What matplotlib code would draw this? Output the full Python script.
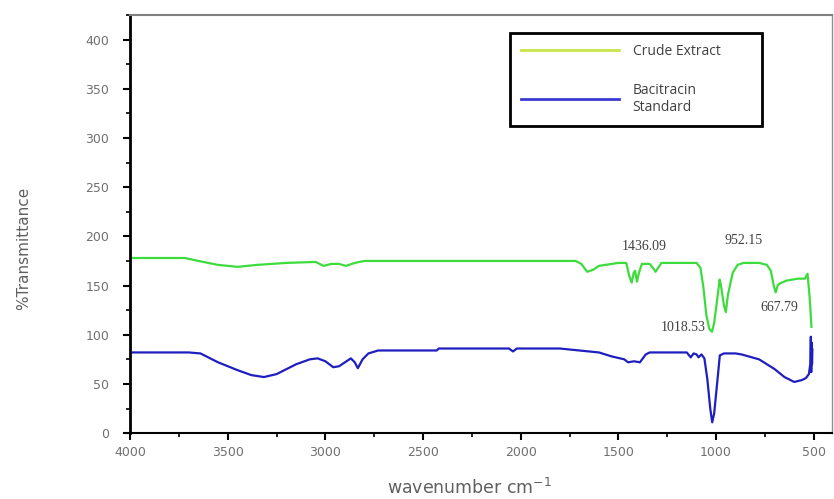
import matplotlib
matplotlib.use("Agg")
import matplotlib.pyplot as plt
from matplotlib.lines import Line2D
from matplotlib.ticker import MultipleLocator

# ---- data ----
crude_wn = [4000, 3720, 3650, 3550, 3450, 3350, 3200, 3050, 3010, 2970, 2930, 2895,
            2850, 2800, 2500, 2000, 1720, 1690, 1660, 1630, 1600, 1500, 1460, 1445,
            1432, 1422, 1415, 1405, 1395, 1380, 1340, 1320, 1310, 1300, 1280, 1100,
            1080, 1065, 1050, 1035, 1021, 1010, 995, 982, 975, 960, 950, 940, 915,
            890, 860, 780, 740, 720, 705, 695, 685, 675, 640, 580, 545, 532, 522,
            517, 512]
crude_t = [178, 178, 175, 171, 169, 171, 173, 174, 170, 172, 172, 170,
           173, 175, 175, 175, 175, 172, 164, 166, 170, 173, 173, 160,
           153, 163, 165, 154, 163, 172, 172, 167, 164, 167, 173, 173,
           168, 148, 120, 106, 103, 112, 135, 156, 150, 130, 123, 140, 163,
           171, 173, 173, 171, 165, 150, 143, 150, 152, 155, 157, 157, 162, 140,
           125, 108]

std_wn = [4000, 3700, 3640, 3550, 3450, 3380, 3315, 3250, 3150, 3080, 3040, 3000,
          2960, 2930, 2900, 2870, 2850, 2834, 2810, 2780, 2730, 2430, 2420, 2060,
          2040, 2020, 1800, 1650, 1600, 1535, 1470, 1451, 1420, 1390, 1360, 1340,
          1150, 1130, 1115, 1100, 1090, 1075, 1060, 1045, 1030, 1020, 1010, 995,
          981, 960, 900, 870, 780, 700, 650, 600, 560, 540, 525, 518, 515, 513,
          511, 509, 507]
std_t = [82, 82, 81, 72, 64, 59, 57, 60, 70, 75, 76, 73,
         67, 68, 72, 76, 72, 66, 75, 81, 84, 84, 86, 86,
         83, 86, 86, 83, 82, 78, 75, 72, 73, 72, 80, 82,
         82, 77, 81, 80, 77, 80, 76, 55, 25, 11, 20, 50,
         79, 81, 81, 80, 75, 65, 57, 52, 54, 56, 60, 70, 98, 62,
         92, 70, 85]

xticks = [4000, 3500, 3000, 2500, 2000, 1500, 1000, 500]
yticks = [0, 50, 100, 150, 200, 250, 300, 350, 400]

annotations = [("1436.09", 1370, 190), ("952.15", 858, 196),
               ("1018.53", 1170, 107), ("667.79", 674, 128)]

# ---- figure ----
fig = plt.figure(figsize=(8.34, 4.99), dpi=100)
ax = fig.add_axes([0.156, 0.132, 0.842, 0.838])

ax.plot(crude_wn, crude_t, color="#3ddc3d", lw=1.6)
ax.plot(std_wn, std_t, color="#1f1fc0", lw=1.6)

ax.set_xlim(4000, 405)
ax.set_ylim(0, 425)
ax.set_xticks(xticks)
ax.set_yticks(yticks)
ax.xaxis.set_minor_locator(MultipleLocator(250))
ax.yaxis.set_minor_locator(MultipleLocator(25))

ax.tick_params(axis="both", which="major", direction="out", length=5, width=1.5,
               labelsize=9, labelcolor="#707070", color="black")
ax.tick_params(axis="both", which="minor", direction="out", length=3, width=1.2,
               color="black")
ax.tick_params(axis="x", pad=4)
ax.tick_params(axis="y", pad=10)

for side, lw, col in [("left", 2.0, "black"), ("bottom", 1.5, "black"),
                      ("top", 1.5, "#808080"), ("right", 1.0, "#909090")]:
    ax.spines[side].set_linewidth(lw)
    ax.spines[side].set_color(col)

ax.set_ylabel("%Transmittance", fontsize=11, color="#606060", va="center")
ax.yaxis.set_label_coords(-0.152, 0.443)
ax.set_xlabel("wavenumber cm$^{-1}$", fontsize=12.5, color="#606060", va="center")
ax.xaxis.set_label_coords(0.483, -0.132)

for txt, x, y in annotations:
    ax.text(x, y, txt, fontsize=10, family="Liberation Serif", color="#404040",
            ha="center", va="center")

handles = [Line2D([], [], color="#c8e64a", lw=2),
           Line2D([], [], color="#3a3ad0", lw=2)]
leg = ax.legend(handles, ["Crude Extract", "Bacitracin\nStandard"],
                loc="upper left", bbox_to_anchor=(0.5415, 0.72, 0.3585, 0.237),
                mode="expand", fancybox=False, frameon=True, framealpha=1,
                handlelength=7.0, handletextpad=1.0, labelspacing=1.7,
                borderpad=0.8, borderaxespad=0,
                prop={"family": "Open Sans", "size": 10})
leg.get_frame().set_edgecolor("black")
leg.get_frame().set_linewidth(2)
for t in leg.get_texts():
    t.set_color("#404040")

fig.savefig("out.png", dpi=100)
